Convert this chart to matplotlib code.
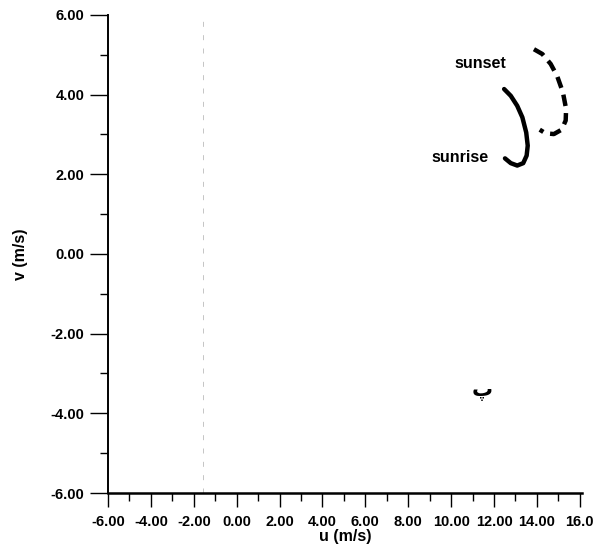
import numpy as np
import matplotlib.pyplot as plt

plt.rcParams['font.family'] = ['Liberation Sans', 'DejaVu Sans']

# hodograph (u, v in m/s)
sunrise_u = [12.47, 12.78, 13.08, 13.32, 13.50, 13.57, 13.52, 13.36, 13.08, 12.78, 12.51]
sunrise_v = [4.14, 3.97, 3.72, 3.43, 3.05, 2.72, 2.47, 2.28, 2.22, 2.28, 2.40]
sunset_u = [13.86, 14.25, 14.64, 14.94, 15.21, 15.36, 15.34, 15.15, 14.79, 14.40, 14.13]
sunset_v = [5.14, 5.02, 4.77, 4.47, 4.06, 3.64, 3.35, 3.12, 3.01, 3.03, 3.12]

x_ticks = [-6, -4, -2, 0, 2, 4, 6, 8, 10, 12, 14, 16]
x_labels = ['-6.00', '-4.00', '-2.00', '0.00', '2.00', '4.00', '6.00',
            '8.00', '10.00', '12.00', '14.00', '16.0']
y_ticks = [-6, -4, -2, 0, 2, 4, 6]
y_labels = ['-6.00', '-4.00', '-2.00', '0.00', '2.00', '4.00', '6.00']

fig = plt.figure(figsize=(6.11, 5.54), dpi=100)
ax = fig.add_axes([0.1768, 0.1101, 0.7757, 0.8629])

ax.plot(sunrise_u, sunrise_v, color='black', lw=3.2,
        solid_capstyle='round', solid_joinstyle='round')
ax.plot(sunset_u, sunset_v, color='black', lw=3.2, linestyle=(0, (2.6, 1.6)),
        dash_joinstyle='round')

ax.text(11.35, 4.79, 'sunset', ha='center', va='center', fontsize=11.5, fontweight='bold')
ax.text(10.42, 2.43, 'sunrise', ha='center', va='center', fontsize=11.5, fontweight='bold')
ax.text(11.44, -3.44, 'پ', ha='center', va='center', fontsize=15,
        family='DejaVu Sans', fontweight='bold')

# faint scan line
ax.axvline(-1.55, color='#bbbbbb', lw=0.6, linestyle=(0, (6, 10)))

ax.set_xlim(-6, 16.1)
ax.set_ylim(-6, 6)
for s in ['top', 'right']:
    ax.spines[s].set_visible(False)
ax.spines['left'].set_linewidth(1.4)
ax.spines['bottom'].set_linewidth(1.8)

ax.set_xticks(x_ticks)
ax.set_xticklabels(x_labels)
ax.set_yticks(y_ticks)
ax.set_yticklabels(y_labels)
ax.set_xticks(np.arange(-5, 16, 2), minor=True)
ax.set_yticks(np.arange(-5, 6, 2), minor=True)
ax.tick_params(which='major', direction='out', length=10, width=1, labelsize=10.5)
ax.tick_params(which='minor', direction='out', length=6, width=1)
ax.tick_params(axis='x', which='major', pad=6)
ax.tick_params(axis='y', which='major', length=13, pad=4)
for lab in ax.get_xticklabels() + ax.get_yticklabels():
    lab.set_fontweight('bold')

ax.set_xlabel('u (m/s)', fontsize=11.5, fontweight='bold', labelpad=0)
ax.set_ylabel('v (m/s)', fontsize=11.5, fontweight='bold', labelpad=16)

fig.savefig('out.png', dpi=100)
